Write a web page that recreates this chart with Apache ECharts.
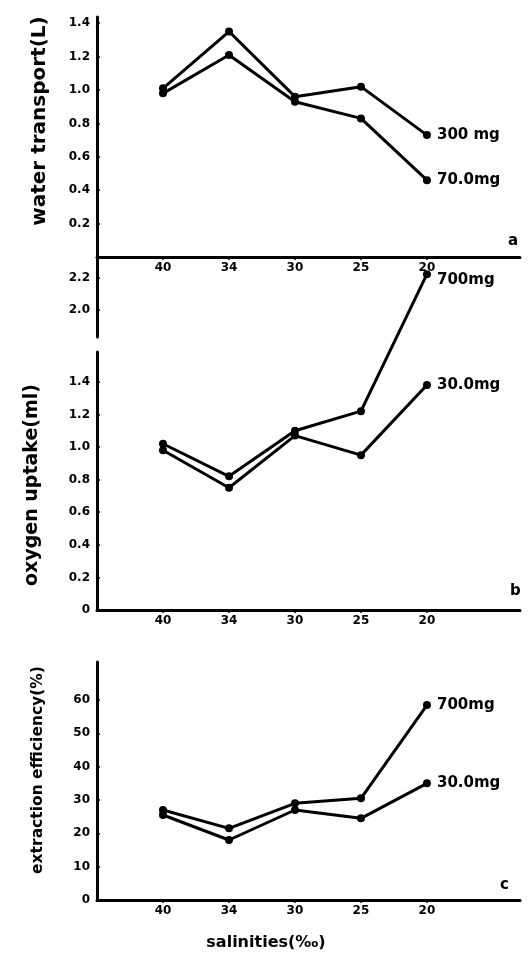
<!DOCTYPE html>
<html><head><meta charset="utf-8">
<script src="https://cdn.jsdelivr.net/npm/echarts@6/dist/echarts.min.js"></script>
<style>html,body{margin:0;padding:0;background:#fff}#c{width:529px;height:953px}</style>
</head><body><div id="c"></div>
<script>
// ---- data ----
const salinities = ['40', '34', '30', '25', '20'];
const waterTransport300 = [1.01, 1.35, 0.96, 1.02, 0.73];
const waterTransport700 = [0.98, 1.21, 0.93, 0.83, 0.46];
const oxygenUptake700 = [1.02, 0.82, 1.10, 1.22, 2.22];
const oxygenUptake300 = [0.98, 0.75, 1.07, 0.95, 1.38];
const extraction700 = [27, 21.5, 29, 30.5, 58.5];
const extraction300 = [25.5, 18, 27, 24.5, 35];
const ticksWater = [0.2, 0.4, 0.6, 0.8, 1.0, 1.2, 1.4];
const ticksOxygenLow = [0, 0.2, 0.4, 0.6, 0.8, 1.0, 1.2, 1.4];
const ticksOxygenHigh = [2.0, 2.2];
const ticksExtraction = [0, 10, 20, 30, 40, 50, 60];
const seriesNames = {
  a: ['300 mg', '70.0mg'],
  b: ['700mg', '30.0mg'],
  c: ['700mg', '30.0mg']
};
const axisTitles = ['water transport(L)', 'oxygen uptake(ml)', 'extraction efficiency(%)', 'salinities(‰)'];

// broken oxygen axis: values above the break are shifted down
const BREAK_LOW = 1.6, BREAK_SHIFT = 0.16;
const brokenScale = v => (v > BREAK_LOW ? v - BREAK_SHIFT : v);

const xPositions = salinities.map((s, i) => i + 1);
const toPoints = (vals, f) => vals.map((v, i) => [xPositions[i], f ? f(v) : v]);

const FONT = 'DejaVu Sans';
const axisLine = { show: true, onZero: false, lineStyle: { color: '#000', width: 3 } };
const tickLabel = { color: '#000', fontFamily: FONT, fontWeight: 'bold', fontSize: 12 };

function xAxisVisible(gridIndex) {
  return {
    type: 'value', gridIndex, min: 0, max: 6.41,
    axisLine, splitLine: { show: false },
    axisTick: { show: true, customValues: xPositions, length: 3, lineStyle: { color: '#000', width: 1.5 } },
    axisLabel: Object.assign({ customValues: xPositions, margin: 5, formatter: v => salinities[v - 1] }, tickLabel)
  };
}
function xAxisHidden(gridIndex) {
  return { type: 'value', gridIndex, min: 0, max: 6.41, show: false };
}
function yAxisVisible(gridIndex, min, max, ticks, fmt) {
  return {
    type: 'value', gridIndex, min, max,
    axisLine, splitLine: { show: false },
    axisTick: { show: true, customValues: ticks, length: 3, inside: true, lineStyle: { color: '#000', width: 1.5 } },
    axisLabel: Object.assign({ customValues: ticks, margin: 7, formatter: fmt }, tickLabel)
  };
}
function lineSeries(name, xi, yi, data, offset) {
  return {
    type: 'line', name, xAxisIndex: xi, yAxisIndex: yi, data,
    symbol: 'circle', symbolSize: 8,
    lineStyle: { color: '#000', width: 3 },
    itemStyle: { color: '#000' },
    endLabel: { show: true, formatter: '{a}', color: '#000', fontFamily: FONT, fontWeight: 'bold', fontSize: 15, offset: offset || [2, 0] },
    animation: false
  };
}
function vText(text, x, y, size) {
  return {
    type: 'text', x, y, rotation: Math.PI / 2,
    style: { text, fill: '#000', font: 'bold ' + size + 'px DejaVu Sans', align: 'center', verticalAlign: 'middle' }
  };
}

const chart = echarts.init(document.getElementById('c'), null, { renderer: 'canvas' });
chart.setOption({
  backgroundColor: '#fff',
  animation: false,
  grid: [
    { left: 97, top: 17, width: 423, height: 240 },   // a
    { left: 97, top: 257, width: 423, height: 353 },  // b data
    { left: 97, top: 352, width: 423, height: 258 },  // b lower axis
    { left: 97, top: 257, width: 423, height: 80 },   // b upper axis
    { left: 97, top: 662, width: 423, height: 238 }   // c
  ],
  xAxis: [xAxisVisible(0), xAxisVisible(1), xAxisHidden(2), xAxisHidden(3), xAxisVisible(4)],
  yAxis: [
    yAxisVisible(0, 0, 240 / 167, ticksWater, v => v.toFixed(1)),
    { type: 'value', gridIndex: 1, min: 0, max: 353 / 163, show: false },
    yAxisVisible(2, 0, 258 / 163, ticksOxygenLow, v => (v === 0 ? '0' : v.toFixed(1))),
    yAxisVisible(3, 1.835, 2.326, ticksOxygenHigh, v => v.toFixed(1)),
    yAxisVisible(4, 0, 238 / 3.333, ticksExtraction, v => String(v))
  ],
  series: [
    lineSeries(seriesNames.a[0], 0, 0, toPoints(waterTransport300)),
    lineSeries(seriesNames.a[1], 0, 0, toPoints(waterTransport700)),
    lineSeries(seriesNames.b[0], 1, 1, toPoints(oxygenUptake700, brokenScale), [2, 6]),
    lineSeries(seriesNames.b[1], 1, 1, toPoints(oxygenUptake300, brokenScale)),
    lineSeries(seriesNames.c[0], 4, 4, toPoints(extraction700)),
    lineSeries(seriesNames.c[1], 4, 4, toPoints(extraction300))
  ],
  graphic: [
    vText(axisTitles[0], 40, 121, 20),
    vText(axisTitles[1], 32, 485, 19),
    vText(axisTitles[2], 38, 770, 15.5),
    { type: 'text', left: 508, top: 234, style: { text: 'a', fill: '#000', font: 'bold 15px DejaVu Sans' } },
    { type: 'text', left: 510, top: 584, style: { text: 'b', fill: '#000', font: 'bold 15px DejaVu Sans' } },
    { type: 'text', left: 500, top: 878, style: { text: 'c', fill: '#000', font: 'bold 15px DejaVu Sans' } },
    { type: 'text', x: 266, y: 943, style: { text: axisTitles[3], fill: '#000', font: 'bold 16px DejaVu Sans', align: 'center', verticalAlign: 'middle' } }
  ]
});
</script>
</body></html>
